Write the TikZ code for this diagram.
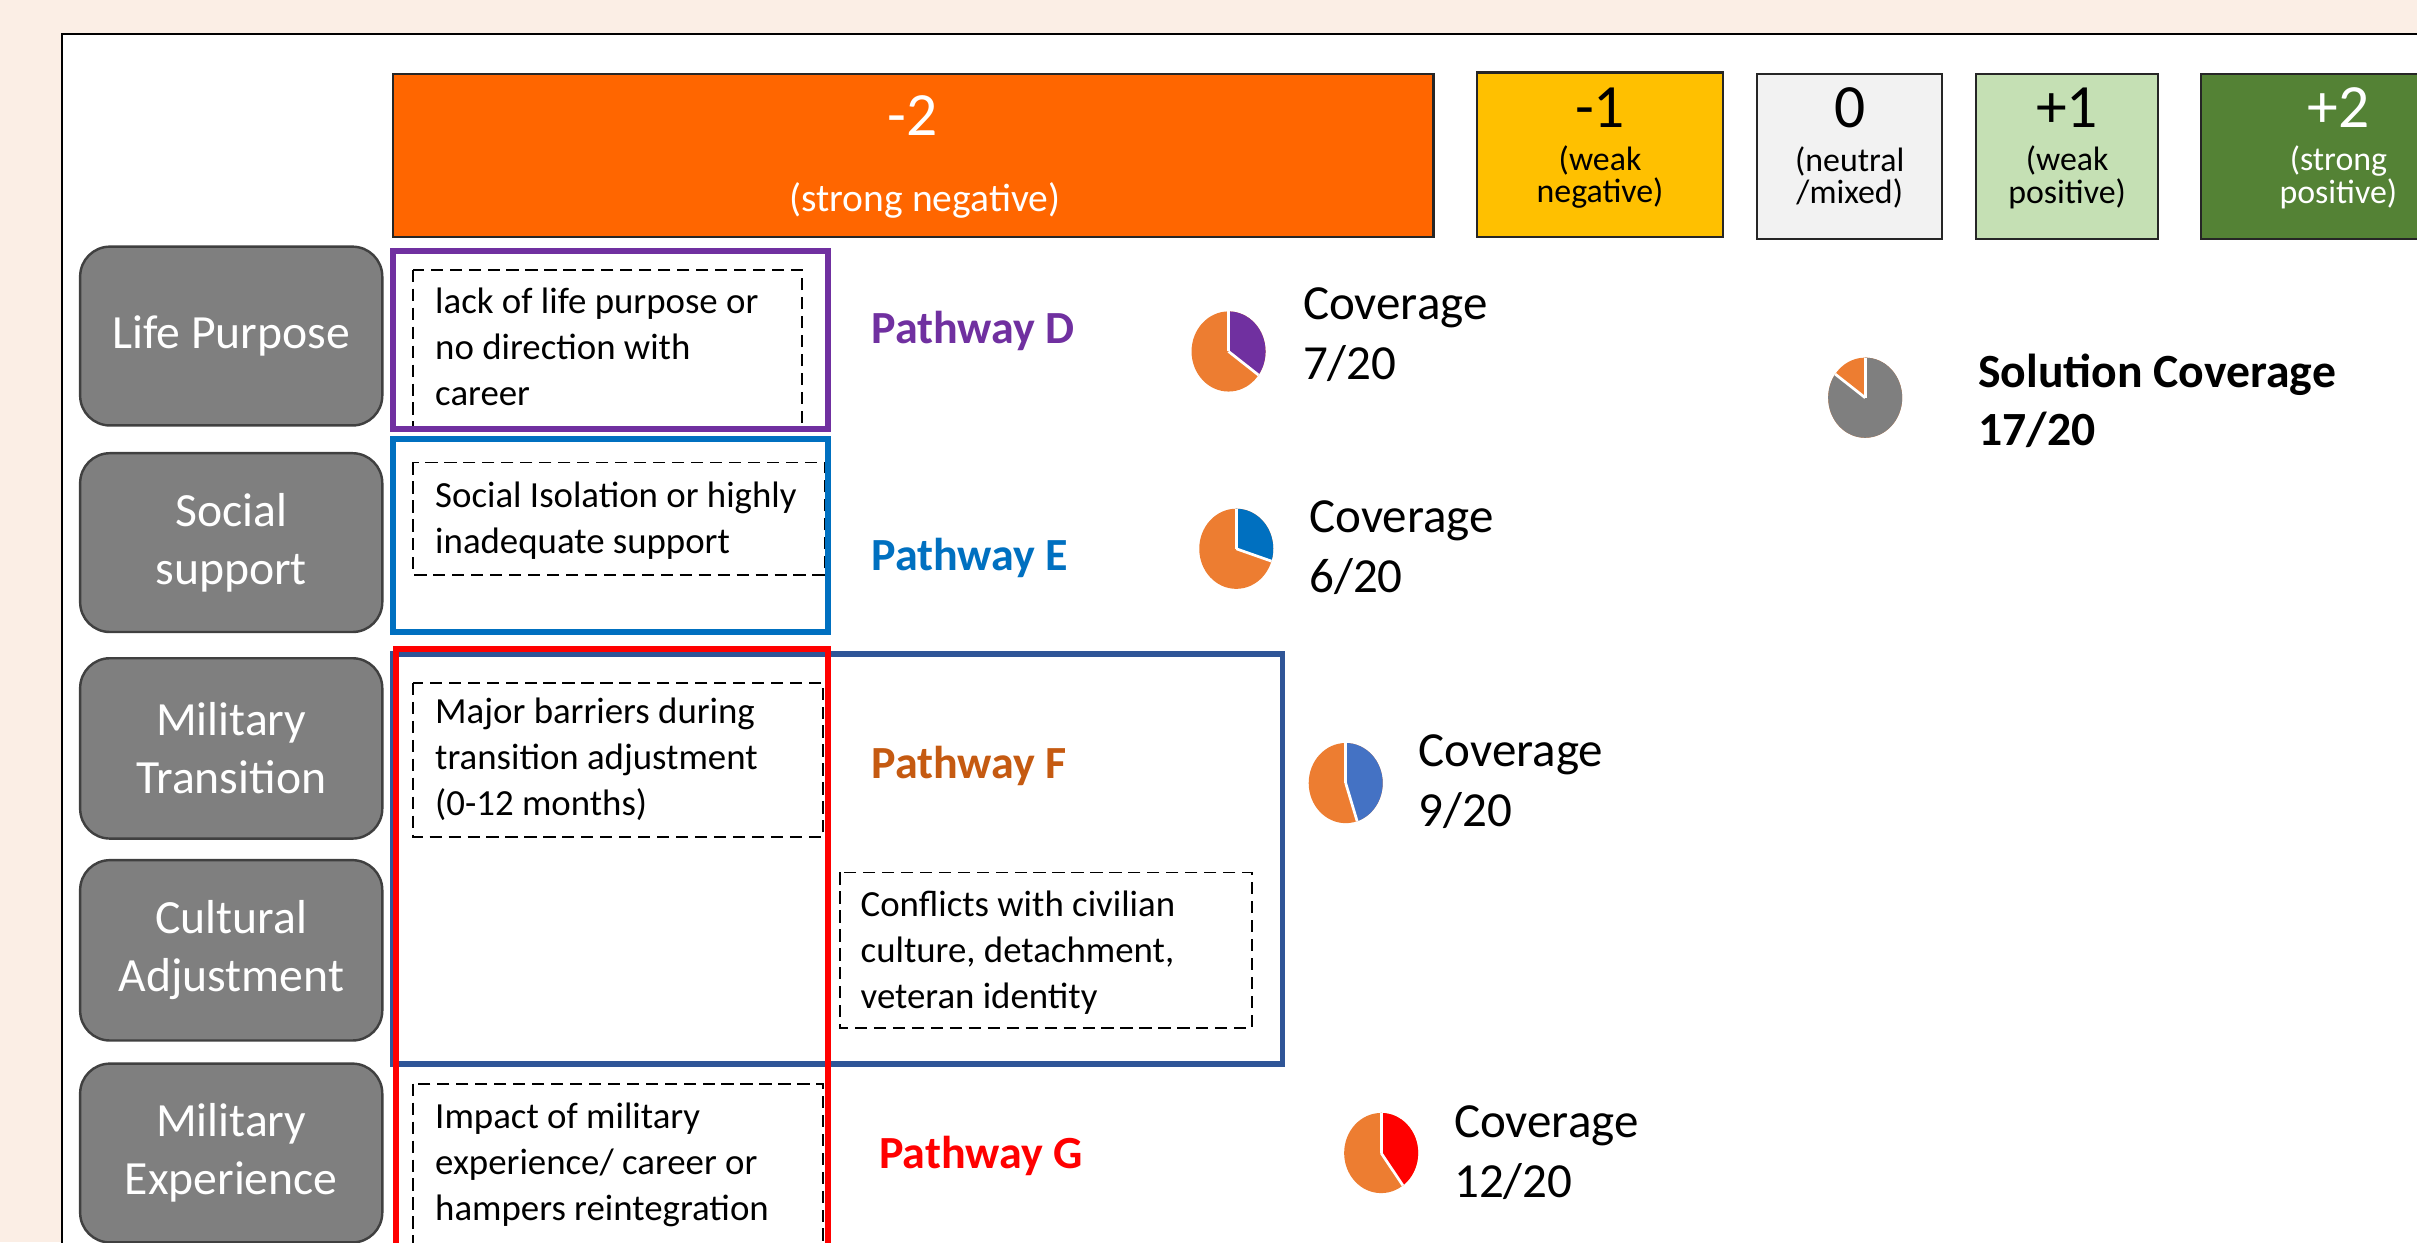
\documentclass[tikz,border=0pt]{standalone}
\usepackage{fontspec}
\setmainfont{Carlito}
\usetikzlibrary{positioning}

\definecolor{peach}{HTML}{FBEEE5}
\definecolor{negtwo}{HTML}{FF6600}
\definecolor{negone}{HTML}{FFC000}
\definecolor{neutral}{HTML}{F2F2F2}
\definecolor{posone}{HTML}{C5E0B4}
\definecolor{postwo}{HTML}{548235}
\definecolor{pathD}{HTML}{7030A0}
\definecolor{pathE}{HTML}{0070C0}
\definecolor{pathF}{HTML}{2F5597}
\definecolor{pathFtext}{HTML}{C55A11}
\definecolor{pathG}{HTML}{FF0000}
\definecolor{pieorange}{HTML}{ED7D31}
\definecolor{pieblue}{HTML}{4472C4}
\definecolor{labelgray}{HTML}{7F7F7F}

\newcommand{\fs}[2]{\fontsize{#1}{#2}\selectfont}
% centre, slice angle (clockwise from top), slice colour, rest colour
\newcommand{\coveragepie}[4]{%
  \fill[#4] (#1) ellipse [x radius=24, y radius=26];
  \fill[#3] (#1) -- ++(0,-26) arc [start angle=-90, end angle=-90+#2, x radius=24, y radius=26] -- cycle;
  \draw[white, line width=1pt] (#1) -- ++(0,-26);
  \draw[white, line width=1pt] (#1) -- ++({24*cos(-90+#2)},{26*sin(-90+#2)});
}

\begin{document}
\begin{tikzpicture}[x=0.02cm, y=-0.02cm,
  scalebox/.style={draw=black!85, line width=0.8pt},
  labelbox/.style={draw=black!75, fill=labelgray, line width=0.9pt, rounded corners=11pt},
  pathbox/.style={line width=2.2pt},
  causebox/.style={draw=black, dash pattern=on 4.5pt off 2.5pt, line width=0.7pt},
  labeltext/.style={text=white, align=center, font=\fs{17.6}{21.5}},
  causetext/.style={anchor=base west, align=left, inner sep=0pt, font=\fs{13.6}{17}},
  pathtext/.style={anchor=west, inner sep=0pt, font=\fs{17}{20}\bfseries},
  covertext/.style={anchor=west, align=left, inner sep=0pt, font=\fs{18.1}{22.1}}]
 \useasboundingbox (0,0) rectangle (1568,806);
 \clip (0,0) rectangle (1568,806);
 \fill[peach] (0,0) rectangle (1568,806);
 \draw[fill=white, line width=0.8pt] (40,22) rectangle (1600,830);

 % scale
 \draw[scalebox, fill=negtwo] (255,48) rectangle (930,154);
 \node (m2) [text=white, font=\fs{22.7}{24}] at (592,75) {-2};
 \node (m2t) [text=white, font=\fs{14.6}{16}] at (600,130) {(strong negative)};
 \draw[scalebox, fill=negone] (958,47) rectangle (1118,154);
 \node (m1) [font=\fs{22.7}{24}] at (1038,70) {-1};
 \node (m1t) [align=center, font=\fs{12.5}{12}] at (1038,115) {(weak\\negative)};
 \draw[scalebox, fill=neutral] (1140,48) rectangle (1260,155);
 \node (z0) [font=\fs{22.7}{24}] at (1200,70) {0};
 \node (z0t) [align=center, font=\fs{12.5}{12}] at (1200,115) {(neutral\\/mixed)};
 \draw[scalebox, fill=posone] (1282,48) rectangle (1400,155);
 \node (p1) [font=\fs{22.7}{24}] at (1341,70) {+1};
 \node (p1t) [align=center, font=\fs{12.5}{12}] at (1341,115) {(weak\\positive)};
 \draw[scalebox, fill=postwo] (1428,48) rectangle (1605,155);
 \node (p2) [text=white, font=\fs{22.7}{24}] at (1517,70) {+2};
 \node (p2t) [text=white, align=center, font=\fs{12.5}{12}] at (1517,115) {(strong\\positive)};

 % domains
 \draw[labelbox] (52,160) rectangle node (lp) [labeltext] {Life Purpose} (248,276);
 \draw[labelbox] (52,294) rectangle node (ss) [labeltext] {Social\\support} (248,410);
 \draw[labelbox] (52,427) rectangle node (mt) [labeltext] {Military\\Transition} (248,544);
 \draw[labelbox] (52,558) rectangle node (ca) [labeltext] {Cultural\\Adjustment} (248,675);
 \draw[labelbox] (52,690) rectangle node (me) [labeltext] {Military\\Experience} (248,806);

 % causes (base = last line)
 \draw[causebox] (268,175) rectangle (520,277);
 \node (cD) [causetext] at (282,263) {lack of life purpose or\\no direction with\\career};
 \draw[causebox] (268,300) rectangle (535,373);
 \node (cE) [causetext] at (282,359) {Social Isolation or highly\\inadequate support};
 \draw[causebox] (268,443) rectangle (534,543);
 \node (cF) [causetext] at (282,529) {Major barriers during\\transition adjustment\\(0-12 months)};
 \draw[causebox] (545,566) rectangle (812,667);
 \node (cF2) [causetext] at (558,654) {Conflicts with civilian\\culture, detachment,\\veteran identity};
 \draw[causebox] (268,703) rectangle (534,830);
 \node (cG) [causetext] at (282,792) {Impact of military\\experience/ career or\\hampers reintegration};

 % pathways
 \draw[pathbox, pathD] (255,163) rectangle (537,278);
 \draw[pathbox, pathE] (255,285) rectangle (537,410);
 \draw[pathbox, pathF] (255,424) rectangle (832,690);
 \draw[pathbox, pathG] (257,421) rectangle (537,812);
 \node (wD) [pathtext, text=pathD] at (565,215) {Pathway D};
 \node (wE) [pathtext, text=pathE] at (565,362) {Pathway E};
 \node (wF) [pathtext, text=pathFtext] at (565,497) {Pathway F};
 \node (wG) [pathtext, text=pathG] at (570,750) {Pathway G};

 % coverage
 \coordinate (pieD) at (797,228);
 \coordinate (pieE) at (802,356);
 \coordinate (pieF) at (873,508);
 \coordinate (pieG) at (896,748);
 \coordinate (pieS) at (1210,258);
 \coveragepie{pieD}{126}{pathD}{pieorange}
 \coveragepie{pieE}{108}{pathE}{pieorange}
 \coveragepie{pieF}{162}{pieblue}{pieorange}
 \coveragepie{pieG}{144}{pathG}{pieorange}
 \coveragepie{pieS}{306}{labelgray}{pieorange}
 \node (vD) [covertext] at (845,217) {Coverage\\7/20};
 \node (vE) [covertext] at (849,355) {Coverage\\6/20};
 \node (vF) [covertext] at (920,507) {Coverage\\9/20};
 \node (vG) [covertext] at (943,748) {Coverage\\12/20};
 \node (vS) [covertext, font=\fs{17.6}{21.5}\bfseries] at (1283,260) {Solution Coverage\\17/20};
\end{tikzpicture}
\end{document}
